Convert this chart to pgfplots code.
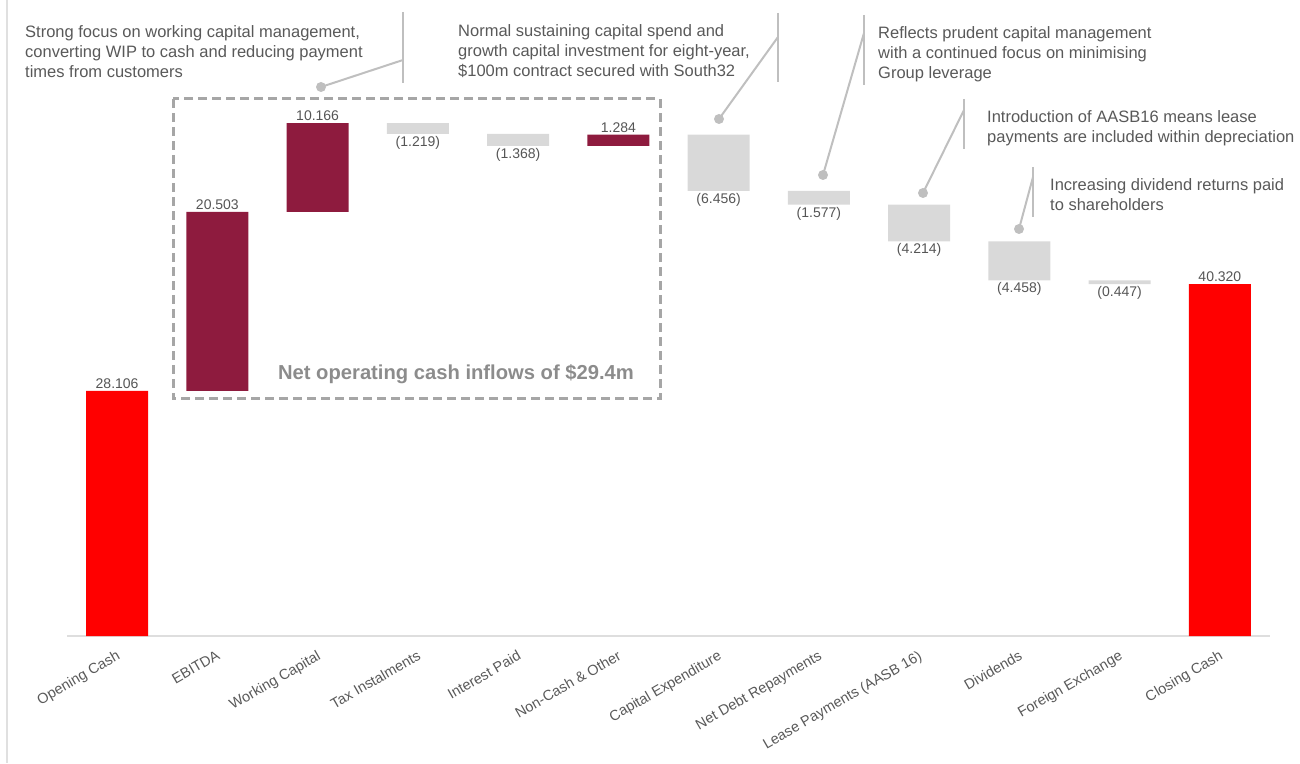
\documentclass[border=0pt]{standalone}
\usepackage{pgfplots}
\pgfplotsset{compat=1.18}
\usepackage{fontspec}
\setmainfont{Liberation Sans}

\definecolor{maroon}{HTML}{8E1B3E}
\definecolor{wfgray}{HTML}{D9D9D9}
\definecolor{wfred}{HTML}{FF0000}
\definecolor{txt}{HTML}{595959}
\definecolor{vals}{HTML}{555555}
\definecolor{lead}{HTML}{BFBFBF}
\definecolor{boxg}{HTML}{A6A6A6}

\pgfplotsset{wfgeom/.style={
    at={(67pt,127pt)}, anchor=south west,
    scale only axis, width=1203pt, height=523.5pt,
    xmin=-0.5, xmax=11.5, ymin=0, ymax=60, clip=false}}

\begin{document}
\begin{tikzpicture}
\path (0,0) rectangle (1300pt,763pt);
\begin{axis}[
    wfgeom,
    ybar stacked, bar width=62pt,
    axis x line*=bottom, axis y line=none,
    x axis line style={draw=black!13, line width=1.5pt},
    major tick length=0pt,
    xtick={0,...,11},
    xticklabels={Opening Cash, EBITDA, Working Capital, Tax Instalments,
      Interest Paid, Non-Cash \& Other, Capital Expenditure, Net Debt Repayments,
      Lease Payments (AASB 16), Dividends, Foreign Exchange, Closing Cash},
    xticklabel style={rotate=30, anchor=north east, inner sep=0pt,
      xshift=-8pt, yshift=-11pt, font=\fontsize{14.5}{16}\selectfont, text=txt},
]
% invisible base
\addplot[fill=none, draw=none]
  coordinates {(0,0) (1,28.106) (2,48.609) (3,57.556) (4,56.188) (5,56.188)
    (6,51.016) (7,49.439) (8,45.225) (9,40.767) (10,40.320) (11,0)};
% falls
\addplot[fill=wfgray, draw=none]
  coordinates {(0,0) (1,0) (2,0) (3,1.219) (4,1.368) (5,0)
    (6,6.456) (7,1.577) (8,4.214) (9,4.458) (10,0.447) (11,0)};
% operating inflows
\addplot[fill=maroon, draw=none]
  coordinates {(0,0) (1,20.503) (2,10.166) (3,0) (4,0) (5,1.284)
    (6,0) (7,0) (8,0) (9,0) (10,0) (11,0)};
% opening and closing cash
\addplot[fill=wfred, draw=none]
  coordinates {(0,28.106) (1,0) (2,0) (3,0) (4,0) (5,0)
    (6,0) (7,0) (8,0) (9,0) (10,0) (11,40.320)};
\end{axis}

% value labels on the same scale
\begin{axis}[wfgeom, hide axis,
    point meta=explicit symbolic,
    nodes near coords style={anchor=south, inner sep=2pt,
      font=\fontsize{14}{16}\selectfont, text=vals}]
\addplot[only marks, mark=none, nodes near coords]
  coordinates {(0,28.106)[28.106] (1,48.609)[20.503] (2,58.775)[10.166]
    (5,57.472)[1.284] (11,40.320)[40.320]};
\addplot[only marks, mark=none, nodes near coords,
  nodes near coords style={yshift=-17.5pt}]
  coordinates {(3,57.556)[{(1.219)}] (4,56.188)[{(1.368)}] (6,51.016)[{(6.456)}]
    (7,49.439)[{(1.577)}] (8,45.225)[{(4.214)}] (9,40.767)[{(4.458)}]
    (10,40.320)[{(0.447)}]};
\end{axis}

% annotations, in pixel coordinates from the top left
\begin{scope}[x=1pt, y=-1pt, yshift=763pt]
  \draw[black!12, line width=1.5pt] (7,0) -- (7,763);
  \draw[boxg, line width=3pt, dash pattern=on 9pt off 5pt] (173,99) rectangle (660,399);
  \node[font=\bfseries\fontsize{20.2}{24}\selectfont, text=black!45] at (456,374)
    {Net operating cash inflows of \$29.4m};

  \begin{scope}[lead, line width=2pt]
    \draw (403,12) -- (403,83);  \draw (403,60) -- (321,87);
    \fill (321,87) circle (5pt);
    \draw (778,13) -- (778,82);  \draw (778,37) -- (719,119);
    \fill (719,119) circle (5pt);
    \draw (864,15) -- (864,85);  \draw (864,33) -- (823,175);
    \fill (823,175) circle (5pt);
    \draw (964,99) -- (964,149); \draw (964,110) -- (923,193);
    \fill (923,193) circle (5pt);
    \draw (1033,167) -- (1033,217); \draw (1033,177) -- (1019,229);
    \fill (1019,229) circle (5pt);
  \end{scope}

  \begin{scope}[every node/.style={anchor=north west, align=left, inner sep=0pt,
      text=txt, font=\fontsize{16.5}{20}\selectfont}]
    \node at (25,25) {Strong focus on working capital management,\\
      converting WIP to cash and reducing payment\\times from customers};
    \node at (458,24) {Normal sustaining capital spend and\\
      growth capital investment for eight-year,\\\$100m contract secured with South32};
    \node at (878,26) {Reflects prudent capital management\\
      with a continued focus on minimising\\Group leverage};
    \node at (987,110) {Introduction of AASB16 means lease\\
      payments are included within depreciation};
    \node at (1050,178) {Increasing dividend returns paid\\to shareholders};
  \end{scope}
\end{scope}

\pgfresetboundingbox
\useasboundingbox (0,0) rectangle (1300pt,763pt);
\end{tikzpicture}
\end{document}
